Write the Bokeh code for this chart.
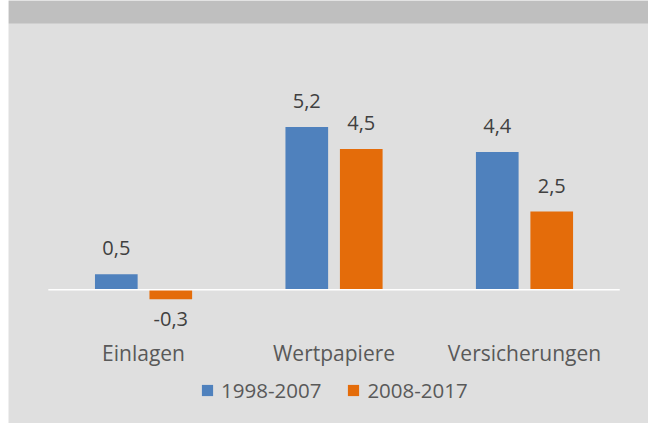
from bokeh.plotting import figure
from bokeh.models import (ColumnDataSource, Range1d, Legend, LegendItem, BoxAnnotation)
from bokeh.core.properties import value
from bokeh.embed import file_html
from bokeh.resources import INLINE

categories = ["Einlagen", "Wertpapiere", "Versicherungen"]
series_names = ["1998-2007", "2008-2017"]
values_1998_2007 = [0.5, 5.2, 4.4]
values_2008_2017 = [-0.3, 4.5, 2.5]
labels_1998_2007 = ["0,5", "5,2", "4,4"]
labels_2008_2017 = ["-0,3", "4,5", "2,5"]

BLUE = "#4F81BD"
ORANGE = "#E46C0A"
BG = "#DFDFDF"
BAND = "#BFBFBF"
TXT = "#595959"
VTXT = "#404040"
FONT = "Open Sans"
OFF = 0.143
BW = 0.224

W, H = 648, 423
LEFT_MARGIN = 8
SCALE = 31.3          # px per unit
ZERO_PX = 289.3       # px from top of plot to the zero line
BAND_PX = 23          # height of the grey header band
Y_END = ZERO_PX / SCALE
Y_START = -(H - ZERO_PX) / SCALE

idx = list(range(len(categories)))

p = figure(width=W, height=H, output_backend="svg", toolbar_location=None,
           x_range=Range1d(-0.709, 2.651), y_range=Range1d(Y_START, Y_END),
           min_border_left=LEFT_MARGIN, min_border_right=0, min_border_top=0,
           min_border_bottom=0, x_axis_location=None, y_axis_location=None)
p.background_fill_color = BG
p.border_fill_color = "white"
p.outline_line_color = None
p.grid.visible = False

p.add_layout(BoxAnnotation(bottom=Y_END - BAND_PX / SCALE, fill_color=BAND,
                           fill_alpha=1, line_color=None, level="underlay"))

def side(vals, labels, sign, color):
    xs = [i + sign * OFF for i in idx]
    src = ColumnDataSource(dict(x=xs, top=vals, lab=labels,
                                off=[-26 if v >= 0 else 20 for v in vals]))
    r = p.vbar(x="x", top="top", bottom=0, width=BW, source=src,
               fill_color=color, line_color=None)
    p.text(x="x", y="top", text="lab", y_offset="off", source=src,
           text_align="center", text_baseline="alphabetic",
           text_font=value(FONT), text_font_size="20px", text_color=VTXT)
    return r

r1 = side(values_1998_2007, labels_1998_2007, -1, BLUE)
r2 = side(values_2008_2017, labels_2008_2017, 1, ORANGE)

p.segment(x0=[-0.5], x1=[len(categories) - 0.5], y0=[0], y1=[0],
          line_color="white", line_width=1.5)

cat_src = ColumnDataSource(dict(x=idx, y=[0] * len(idx), t=categories))
p.text(x="x", y="y", text="t", source=cat_src, y_offset=63,
       text_align="center", text_baseline="alphabetic",
       text_font=value(FONT), text_font_size="21px", text_color=TXT)

legend = Legend(items=[LegendItem(label=series_names[0], renderers=[r1]),
                       LegendItem(label=series_names[1], renderers=[r2])],
                orientation="horizontal", location=(192, 19),
                glyph_width=14, glyph_height=14, label_standoff=7, spacing=25,
                label_text_font=FONT, label_text_font_size="20.5px",
                label_text_color=TXT, background_fill_alpha=0,
                border_line_color=None, padding=0, margin=0)
p.add_layout(legend, "center")

open("out.html", "w").write(file_html(p, INLINE))
